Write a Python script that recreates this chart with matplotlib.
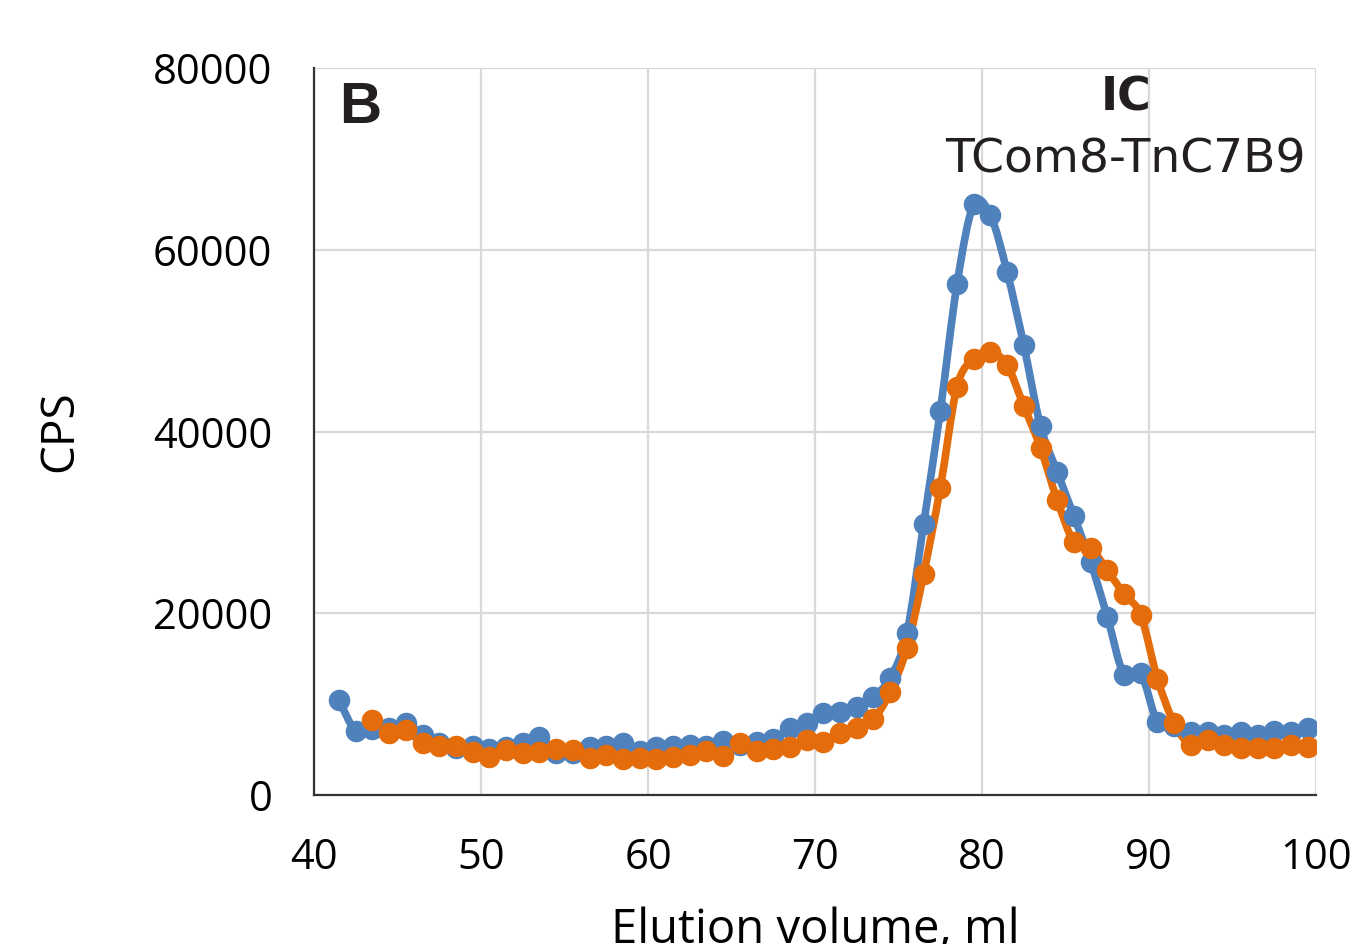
import numpy as np
import matplotlib
matplotlib.use("Agg")
import matplotlib.pyplot as plt
from matplotlib.path import Path
from matplotlib.patches import PathPatch

# ---- data ----
blue_x = [41.5 + i for i in range(59)]
blue_y = [10450, 7040, 7300, 7400, 7900, 6600, 5700, 5200, 5400, 5050,
          5300, 5700, 6400, 4600, 4600, 5300, 5400, 5700, 4850, 5300,
          5400, 5500, 5400, 5950, 5500, 5850, 6150, 7350, 7900, 9000,
          9150, 9700, 10800, 12900, 17800, 29800, 42250, 56200, 65000, 63800,
          57550, 49500, 40600, 35550, 30700, 25650, 19600, 13200, 13400, 8050,
          7600, 6950, 6950, 6600, 6950, 6600, 7050, 6950, 7350]
orange_x = [43.5 + i for i in range(57)]
orange_y = [8250, 6800, 7150, 5700, 5400, 5400, 4750, 4200, 4950, 4600,
            4750, 5050, 4950, 4100, 4400, 3950, 4050, 3950, 4200, 4400,
            4850, 4300, 5700, 4850, 5050, 5300, 6050, 5850, 6800, 7350,
            8350, 11350, 16200, 24300, 33800, 44900, 48000, 48750, 47300, 42800,
            38200, 32450, 27850, 27200, 24750, 22100, 19800, 12800, 7900, 5500,
            6050, 5500, 5200, 5200, 5200, 5500, 5300]
x_ticks = [40, 50, 60, 70, 80, 90, 100]
y_ticks = [0, 20000, 40000, 60000, 80000]

BLUE = "#4F81BD"
ORANGE = "#E46C0A"


def smooth_path(xs, ys):
    xs = np.asarray(xs, float)
    ys = np.asarray(ys, float)
    pts = np.column_stack([xs, ys])
    n = len(pts)
    verts = [pts[0]]
    codes = [Path.MOVETO]
    for i in range(n - 1):
        p0 = pts[i - 1] if i > 0 else pts[i]
        p1 = pts[i]
        p2 = pts[i + 1]
        p3 = pts[i + 2] if i + 2 < n else pts[i + 1]
        c1 = p1 + (p2 - p0) / 6.0
        c2 = p2 - (p3 - p1) / 6.0
        verts += [c1, c2, p2]
        codes += [Path.CURVE4] * 3
    return Path(verts, codes)


fig = plt.figure(figsize=(13.54, 9.44), dpi=100)
ax = fig.add_axes([0.2319, 0.1578, 0.972 - 0.2319, 0.928 - 0.1578])

for xs, ys, c in [(blue_x, blue_y, BLUE), (orange_x, orange_y, ORANGE)]:
    ax.add_patch(PathPatch(smooth_path(xs, ys), fill=False, edgecolor=c,
                           lw=5.5, capstyle="round", joinstyle="round", zorder=3))
    ax.plot(xs, ys, linestyle="none", marker="o", ms=14.5, color=c, zorder=4)

ax.set_xlim(40, 100)
ax.set_ylim(0, 80000)
ax.set_xticks(x_ticks)
ax.set_yticks(y_ticks)
ax.grid(True, color="#D9D9D9", lw=1.6, zorder=0)
ax.set_axisbelow(True)
for s in ["top", "right"]:
    ax.spines[s].set_visible(False)
ax.spines["left"].set_color("#333333")
ax.spines["bottom"].set_color("#333333")
ax.spines["left"].set_linewidth(1.6)
ax.spines["bottom"].set_linewidth(1.6)

ax.tick_params(length=0, labelsize=30, pad=30)
for lab in ax.get_xticklabels() + ax.get_yticklabels():
    lab.set_fontfamily("Open Sans")

ax.set_ylabel("CPS", fontsize=33, fontfamily="Open Sans", labelpad=50)
ax.set_xlabel("Elution volume, ml", fontsize=34, fontfamily="Open Sans", labelpad=20)

ax.text(0.025, 0.982, "B", transform=ax.transAxes, fontsize=42,
        fontweight="bold", fontfamily="Liberation Sans", color="#231F20",
        va="top", ha="left")
ax.text(0.81, 0.99, "IC", transform=ax.transAxes, fontsize=33,
        fontweight="bold", fontfamily="DejaVu Sans", color="#231F20",
        va="top", ha="center")
ax.text(0.99, 0.905, "TCom8-TnC7B9", transform=ax.transAxes, fontsize=34,
        fontfamily="DejaVu Sans", color="#231F20", va="top", ha="right")

fig.savefig("out.png", dpi=100)
